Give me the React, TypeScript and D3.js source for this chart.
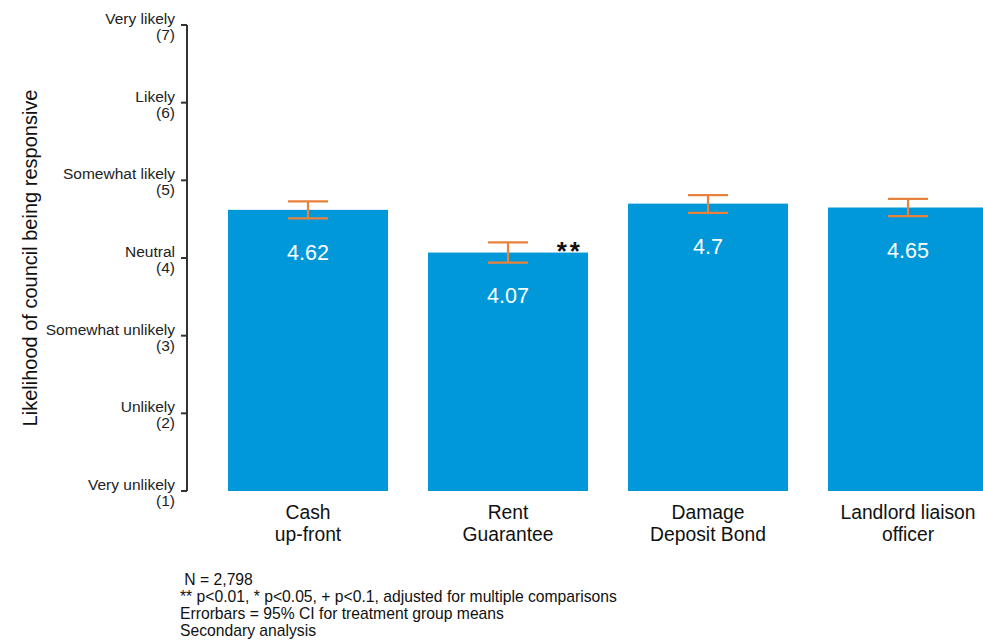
import React from "react";
import * as d3 from "d3";

// Treatment groups and their mean ratings on the 1–7 scale
const categories: string[][] = [
  ["Cash", "up-front"],
  ["Rent", "Guarantee"],
  ["Damage", "Deposit Bond"],
  ["Landlord liaison", "officer"],
];
const means: number[] = [4.62, 4.07, 4.7, 4.65];
const ciLow: number[] = [4.51, 3.94, 4.58, 4.54];
const ciHigh: number[] = [4.73, 4.2, 4.81, 4.76];
const significance: string[] = ["", "**", "", ""];

// Likert scale tick labels
const tickValues: number[] = [1, 2, 3, 4, 5, 6, 7];
const tickLabels: string[] = [
  "Very unlikely",
  "Unlikely",
  "Somewhat unlikely",
  "Neutral",
  "Somewhat likely",
  "Likely",
  "Very likely",
];

const notes: string[] = [
  " N = 2,798",
  "** p<0.01, * p<0.05, + p<0.1, adjusted for multiple comparisons",
  "Errorbars = 95% CI for treatment group means",
  "Secondary analysis",
];

const W = 983;
const H = 642;
const FONT = "'Liberation Sans', Arial, sans-serif";
const BAR = "#0098d9";
const ERR = "#e8823c";

export default function App() {
  const y = d3.scaleLinear().domain([1, 7]).range([491, 25]);
  const x = d3
    .scaleBand<number>()
    .domain(d3.range(categories.length))
    .range([208, 1008])
    .paddingInner(0.2)
    .paddingOuter(0.1);
  const bw = x.bandwidth();
  const axisX = 187;
  const capHalf = 20;

  return (
    <div style={{ position: "absolute", left: 0, top: 0 }}>
      <svg width={W} height={H} style={{ display: "block", fontFamily: FONT }}>
        <rect width={W} height={H} fill="#fff" />

        {/* bars */}
        {means.map((m, i) => (
          <rect
            key={"b" + i}
            x={x(i)!}
            y={y(m)}
            width={bw}
            height={y(1) - y(m)}
            fill={BAR}
          />
        ))}

        {/* error bars */}
        {means.map((_, i) => {
          const cx = x(i)! + bw / 2;
          return (
            <g key={"e" + i} stroke={ERR} strokeWidth={2.2}>
              <line x1={cx} x2={cx} y1={y(ciHigh[i])} y2={y(ciLow[i])} />
              <line x1={cx - capHalf} x2={cx + capHalf} y1={y(ciHigh[i])} y2={y(ciHigh[i])} />
              <line x1={cx - capHalf} x2={cx + capHalf} y1={y(ciLow[i])} y2={y(ciLow[i])} />
            </g>
          );
        })}

        {/* value labels */}
        {means.map((m, i) => (
          <text
            key={"v" + i}
            x={x(i)! + bw / 2}
            y={y(m) + 50}
            textAnchor="middle"
            fontSize={21.5}
            fill="#fff"
          >
            {String(m)}
          </text>
        ))}

        {/* significance markers */}
        {significance.map((s, i) =>
          s ? (
            <text
              key={"s" + i}
              x={x(i)! + bw - 5}
              y={y(means[i]) + 7}
              textAnchor="end"
              fontSize={26}
              fontWeight="bold"
              letterSpacing={3}
              fill="#111"
            >
              {s}
            </text>
          ) : null
        )}

        {/* y axis */}
        <line x1={axisX} x2={axisX} y1={y(7)} y2={y(1)} stroke="#333" strokeWidth={2} />
        {tickValues.map((v, i) => (
          <g key={"t" + v}>
            <line x1={axisX - 6} x2={axisX} y1={y(v)} y2={y(v)} stroke="#333" strokeWidth={2} />
            <text x={175} y={y(v) - 1} textAnchor="end" fontSize={15.5} fill="#222">
              {tickLabels[i]}
            </text>
            <text x={175} y={y(v) + 15} textAnchor="end" fontSize={15.5} fill="#222">
              ({v})
            </text>
          </g>
        ))}

        {/* y axis title */}
        <text
          transform={`translate(37, ${y(4)}) rotate(-90)`}
          textAnchor="middle"
          fontSize={20}
          fill="#111"
        >
          Likelihood of council being responsive
        </text>

        {/* category labels */}
        {categories.map((lines, i) => (
          <text
            key={"c" + i}
            x={x(i)! + bw / 2}
            textAnchor="middle"
            fontSize={19.3}
            fill="#111"
          >
            {lines.map((l, j) => (
              <tspan key={j} x={x(i)! + bw / 2} y={519 + j * 22}>
                {l}
              </tspan>
            ))}
          </text>
        ))}

        {/* footnotes */}
        <text fontSize={15.7} fill="#111" xmlSpace="preserve" style={{ whiteSpace: "pre" }}>
          {notes.map((n, i) => (
            <tspan key={i} x={180} y={585 + i * 17}>
              {n}
            </tspan>
          ))}
        </text>
      </svg>
    </div>
  );
}
